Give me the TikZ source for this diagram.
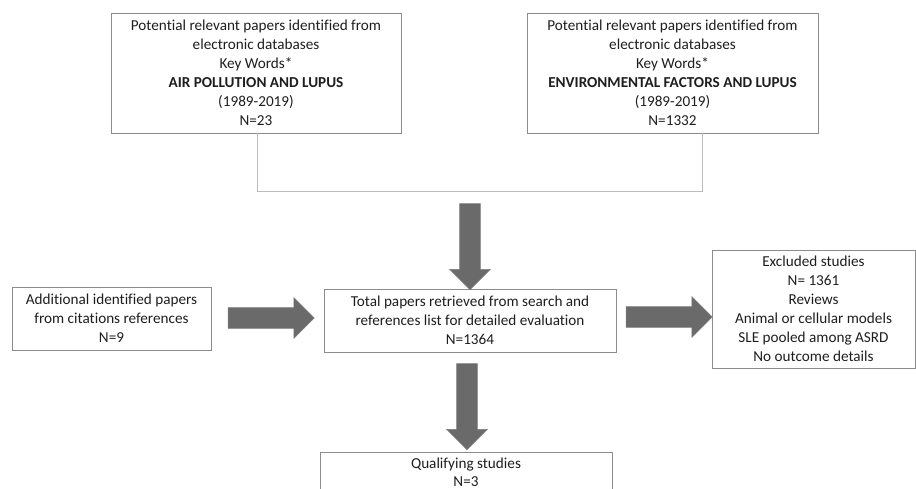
\documentclass[tikz,border=0pt]{standalone}
\usepackage{fontspec}
\setmainfont{Carlito}[Ligatures=NoCommon]
\usetikzlibrary{shapes.arrows}
\definecolor{boxgray}{HTML}{8C8C8C}
\definecolor{linegray}{HTML}{BDBDBD}
\definecolor{arrowfill}{HTML}{6A6A6A}
\definecolor{arrowedge}{HTML}{7E7E7E}
\definecolor{textcol}{HTML}{1E1E1E}
\begin{document}
\begin{tikzpicture}[x=1pt,y=-1pt,
  box/.style={draw=boxgray, line width=0.9pt, align=center, inner sep=0pt,
    font=\fontsize{15.2}{19}\selectfont, text=textcol},
  bigarrow/.style={single arrow, draw=arrowedge, fill=arrowfill, line width=0.6pt,
    minimum height=86pt, minimum width=40pt, single arrow head extend=10pt,
    single arrow tip angle=90, inner sep=10pt},
  bracket/.style={draw=linegray, line width=0.9pt}]
\useasboundingbox (0,0) rectangle (916,489);
\clip (0,0) rectangle (916,489);

\node[box, minimum width=290pt, minimum height=120pt] (a) at (256,73)
  {Potential relevant papers identified from\\electronic databases\\Key Words*\\\textbf{AIR POLLUTION AND LUPUS}\\(1989-2019)\\N=23};
\node[box, minimum width=291pt, minimum height=120pt] (b) at (672.5,73)
  {Potential relevant papers identified from\\electronic databases\\Key Words*\\\textbf{ENVIRONMENTAL FACTORS AND LUPUS}\\(1989-2019)\\N=1332};

\coordinate (j1) at (257,191);
\coordinate (j2) at (702,191);
\draw[bracket] (a.south -| j1) -- (j1) -- (j2) -- (b.south -| j2);

\node[box, minimum width=199pt, minimum height=63pt] (l) at (111.5,318.5)
  {Additional identified papers\\from citations references\\N=9};
\node[box, minimum width=292pt, minimum height=63pt] (c) at (470,320.5)
  {Total papers retrieved from search and\\references list for detailed evaluation\\N=1364};
\node[box, minimum width=203pt, minimum height=118pt] (r) at (813.5,309)
  {Excluded studies\\N= 1361\\Reviews\\Animal or cellular models\\SLE pooled among ASRD\\No outcome details};
\node[box, minimum width=292pt, anchor=north, inner ysep=5pt,
  font=\fontsize{15.2}{18}\selectfont] (q) at (466,452)
  {Qualifying studies\\N=3\\ \\ };

\node[bigarrow, shape border rotate=270] (d1) at (470,241.5) {};
\node[bigarrow] (r1) at (266,318) {};
\node[bigarrow] (r2) at (664,317) {};
\node[bigarrow, shape border rotate=270] (d2) at (467,401.5) {};
\end{tikzpicture}
\end{document}
